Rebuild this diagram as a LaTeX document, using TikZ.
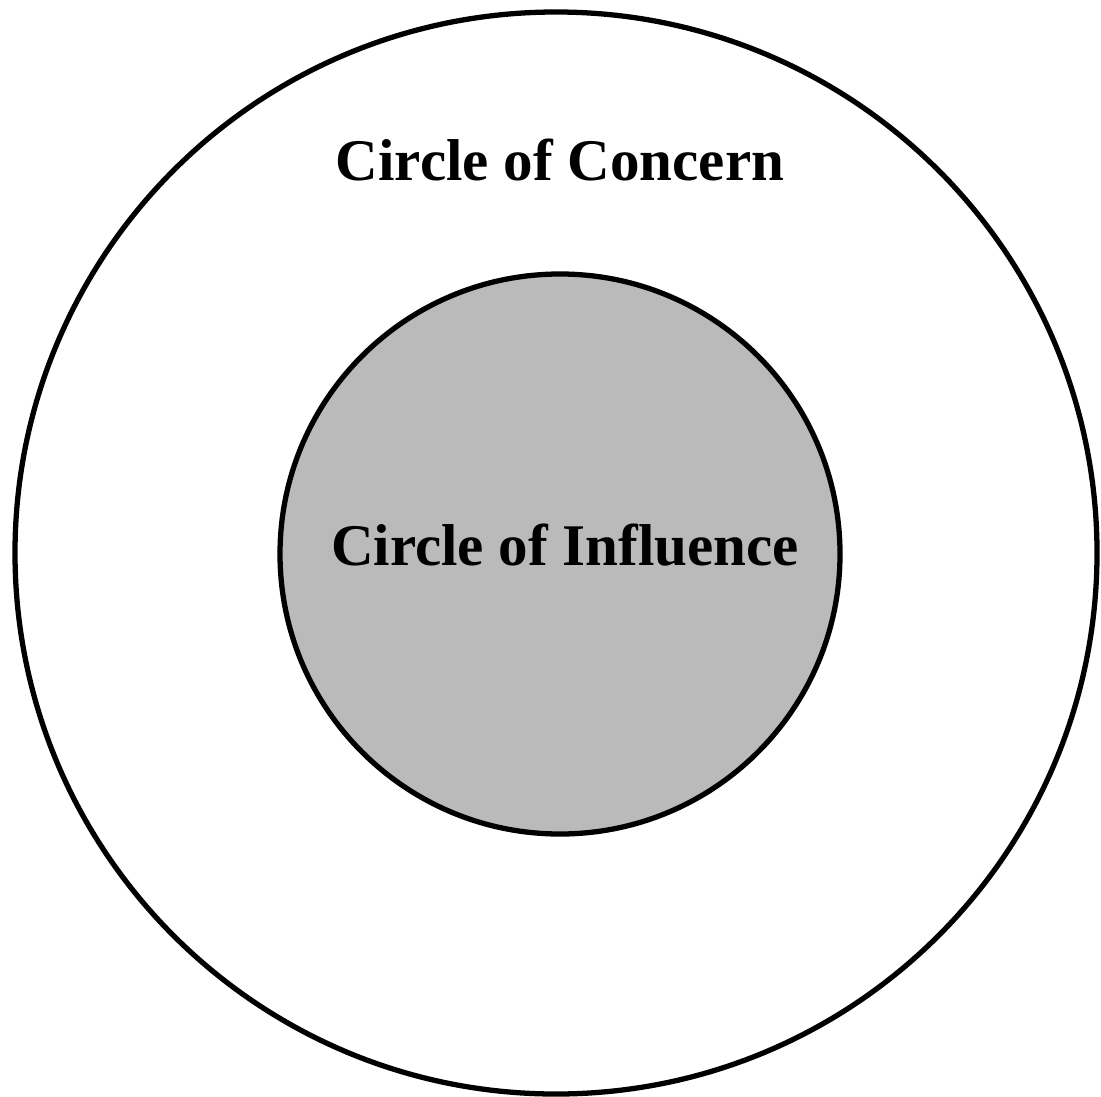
\documentclass[tikz,border=0pt]{standalone}
\usepackage{fontspec}
\setmainfont{Liberation Serif}
\usetikzlibrary{positioning}

\begin{document}
\begin{tikzpicture}[
   ring/.style={circle,draw,line width=1.5pt,inner sep=0pt},
   title/.style={font=\bfseries\fontsize{16.8}{20}\selectfont}]
 \useasboundingbox (0,0) rectangle (11.01,10.96);
 \node[ring,minimum size=10.82cm] (concern) at (5.56,5.43) {};
 \node[ring,fill=black!27,minimum size=5.60cm] (influence) at (5.60,5.42) {};
 \node[title] (concernlbl) at (5.60,9.36) {Circle of Concern};
 \node[title] (influencelbl) at (5.65,5.51) {Circle of Influence};
\end{tikzpicture}
\end{document}
